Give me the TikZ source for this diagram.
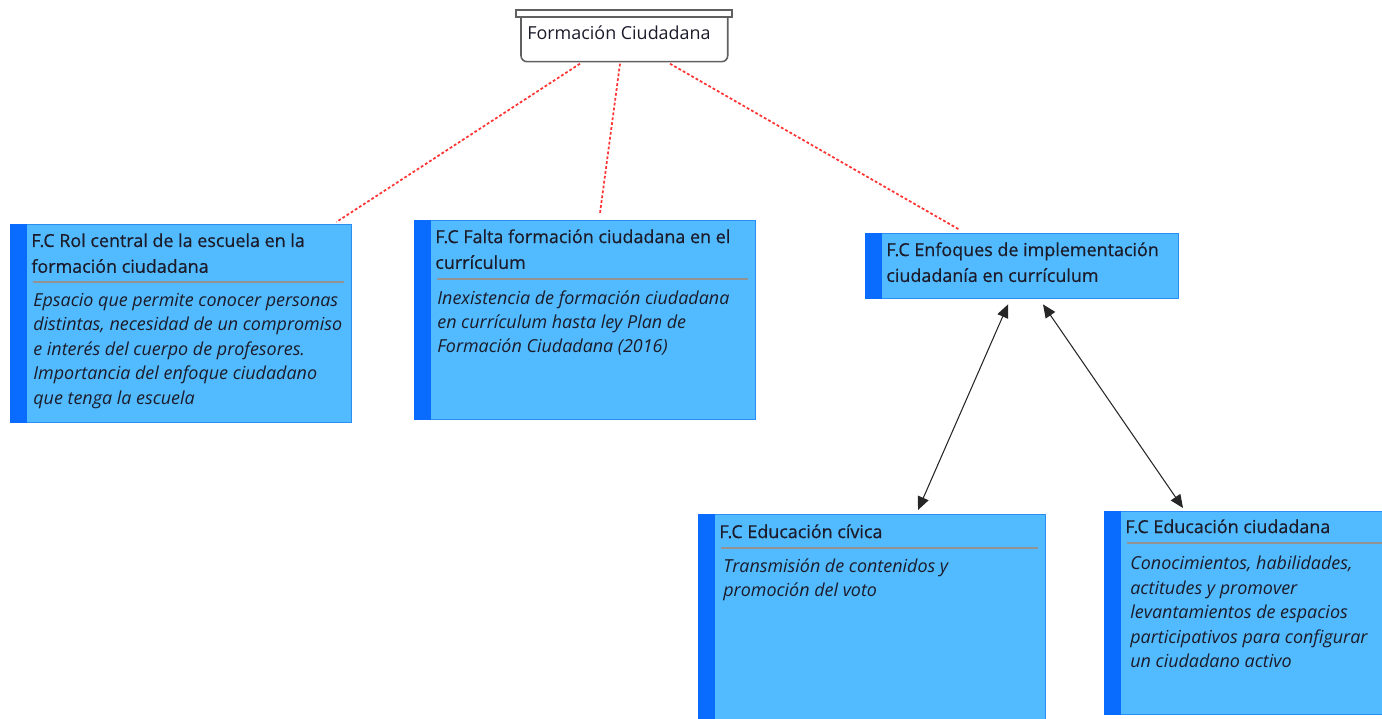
\documentclass[tikz,border=0pt]{standalone}
\usepackage{fontspec}
\setmainfont{Open Sans}
\newfontfamily\headfont[FakeBold=0.5]{Open Sans}
\usetikzlibrary{arrows.meta,calc}

\definecolor{cardfill}{HTML}{52BAFE}
\definecolor{cardedge}{HTML}{2B8EF5}
\definecolor{cardbar}{HTML}{0A6CFF}
\definecolor{linkred}{HTML}{FF3535}
\definecolor{inkblue}{HTML}{1B1B2A}

\tikzset{
	card/.style={draw=cardedge, fill=cardfill, line width=0.8pt, anchor=north west, inner sep=0pt},
	head/.style={anchor=north west, inner sep=0pt, align=left, text=inkblue,
		font=\headfont\fontsize{10.2}{14.7}\selectfont},
	note/.style={anchor=north west, inner sep=0pt, align=left, text=inkblue,
		font=\fontsize{10.2}{13.9}\selectfont\itshape},
	sepline/.style={draw=gray!85, line width=1.1pt},
	link/.style={draw=linkred, line width=1pt, dash pattern=on 1.6pt off 1.2pt},
	pair/.style={draw=black!85, line width=0.6pt,
		{Triangle[length=7.5pt,width=6.5pt]}-{Triangle[length=7.5pt,width=6.5pt]}},
}

\begin{document}
\begin{tikzpicture}[x=0.02cm, y=-0.02cm]
	\newcommand {\pix} {0.02cm}
	\useasboundingbox (0,0) rectangle (1382,719);

	% root
	\node[anchor=north west, inner sep=0pt, minimum width=206*\pix, minimum height=44*\pix] (fc) at (521,17) {};
	\draw[gray!75!black, fill=white, line width=0.9pt, rounded corners=0.12cm]
		(fc.north west) -- (fc.south west) -- (fc.south east) -- (fc.north east);
	\draw[gray!75!black, fill=white, line width=0.9pt] ($(fc.north west)+(-5,-7)$) rectangle ($(fc.north east)+(4,0)$);
	\node[anchor=west, inner sep=0pt, text=inkblue, font=\fontsize{10.2}{12}\selectfont] (fct) at ($(fc.west)+(6,-7)$) {Formación Ciudadana};

	% cards
	\node[card, minimum width=341*\pix, minimum height=198*\pix] (r1) at (10,224) {};
	\node[card, minimum width=341*\pix, minimum height=199*\pix] (r2) at (414,220) {};
	\node[card, minimum width=313*\pix, minimum height=65*\pix] (r3) at (865,233) {};
	\node[card, minimum width=347*\pix, minimum height=215*\pix] (r4) at (698,514) {};
	\node[card, minimum width=290*\pix, minimum height=203*\pix] (r5) at (1104,511) {};
	\foreach \b in {r1,r2,r3,r4,r5}
	{
		\fill[cardbar] (\b.north west) rectangle ($(\b.south west)+(17,0)$);
	}
	\foreach \b/\d in {r1/58,r2/59,r4/34,r5/32}
	{
		\draw[sepline] ($(\b.north west)+(23,\d)$) -- ($(\b.north east)+(-8,\d)$);
	}

	\node[head] (t1) at ($(r1.north west)+(21,9)$) {F.C Rol central de la escuela en la\\formación ciudadana};
	\node[note] (n1) at ($(r1.north west)+(23,69)$) {Epsacio que permite conocer personas\\distintas, necesidad de un compromiso\\e interés del cuerpo de profesores.\\Importancia del enfoque ciudadano\\que tenga la escuela};
	\node[head] (t2) at ($(r2.north west)+(21,9)$) {F.C Falta formación ciudadana en el\\currículum};
	\node[note] (n2) at ($(r2.north west)+(23,70)$) {Inexistencia de formación ciudadana\\en currículum hasta ley Plan de\\Formación Ciudadana (2016)};
	\node[head] (t3) at ($(r3.north west)+(21,9)$) {F.C Enfoques de implementación\\ciudadanía en currículum};
	\node[head] (t4) at ($(r4.north west)+(21,10)$) {F.C Educación cívica};
	\node[note] (n4) at ($(r4.north west)+(25,44)$) {Transmisión de contenidos y\\promoción del voto};
	\node[head] (t5) at ($(r5.north west)+(21,8)$) {F.C Educación ciudadana};
	\node[note] (n5) at ($(r5.north west)+(26,45)$) {Conocimientos, habilidades,\\actitudes y promover\\levantamientos de espacios\\participativos para configurar\\un ciudadano activo};

	% links
	\draw[link] ($(fc.south west)+(59,2)$) -- ($(r1.north east)+(-16,-2)$);
	\draw[link] ($(fc.south west)+(99,2)$) -- ($(r2.north west)+(186,-7)$);
	\draw[link] ($(fc.south west)+(149,2)$) -- ($(r3.north west)+(95,-3)$);
	\draw[pair] ($(r3.south west)+(143,5)$) -- ($(r4.north west)+(220,-4)$);
	\draw[pair] ($(r3.south west)+(178,5)$) -- ($(r5.north west)+(79,-3)$);
\end{tikzpicture}
\end{document}
